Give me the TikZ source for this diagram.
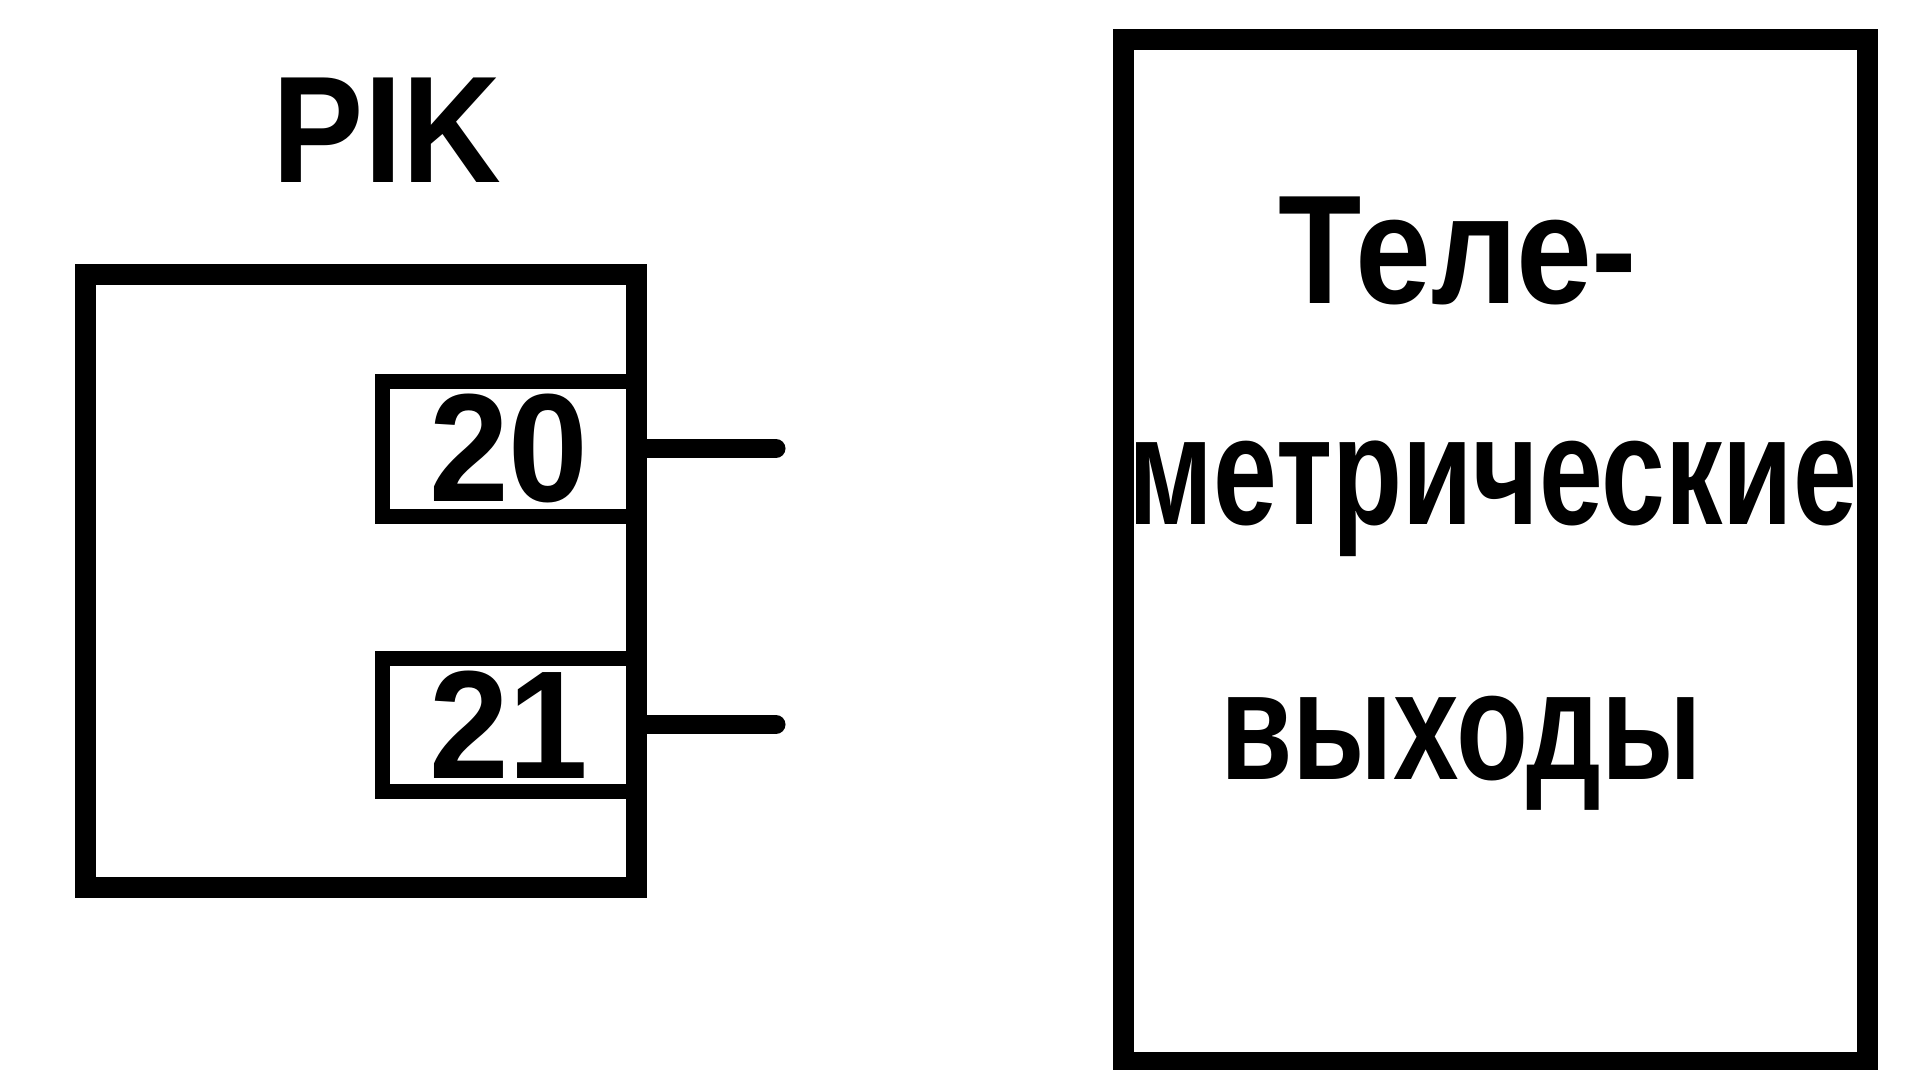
\documentclass[tikz,border=0pt]{standalone}
\usepackage{graphicx}
\usepackage{fontspec}
\setmainfont{Liberation Sans}
\newcommand\hsq[2]{\scalebox{#1}[1]{#2}}
\begin{document}
\begin{tikzpicture}[x=1pt,y=-1pt]
\tikzset{
  bigbox/.style={draw, line width=21pt, inner sep=0pt, outer sep=0pt},
  portbox/.style={draw, line width=15pt, inner sep=0pt, outer sep=0pt,
    minimum width=254pt, font=\fontsize{154}{154}\selectfont\bfseries},
  wire/.style={line width=19pt, line cap=round},
  lbl/.style={inner sep=0pt, outer sep=0pt, anchor=base,
    font=\fontsize{155}{155}\selectfont\bfseries}
}
\useasboundingbox (0,0) rectangle (1919,1070);
% left block
\node[bigbox, minimum width=551pt, minimum height=613pt] (pik) at (360.5,580.5) {};
\node[portbox, minimum height=135pt] (p20) at (509,448.5) {\hsq{0.93}{20}};
\node[portbox, minimum height=133pt] (p21) at (509,724.5) {\hsq{0.93}{21}};
\node[lbl, font=\fontsize{152}{152}\selectfont\bfseries] (pikname) at (387,182) {\hsq{0.9}{PIK}};
% wires
\coordinate (e20) at (776,448.5);
\coordinate (e21) at (776,724.5);
\draw[wire] (p20.east) -- (e20);
\draw[wire] (p21.east) -- (e21);
% right block
\node[bigbox, minimum width=744pt, minimum height=1022pt] (tele) at (1495,551) {};
\node[lbl] (t1) at (1458,303) {\hsq{0.88}{Теле-}};
\node[lbl] (t2) at (1493,524) {\hsq{0.74}{метрические}};
\node[lbl] (t3) at (1461,779) {\hsq{0.76}{выходы}};
\end{tikzpicture}
\end{document}
